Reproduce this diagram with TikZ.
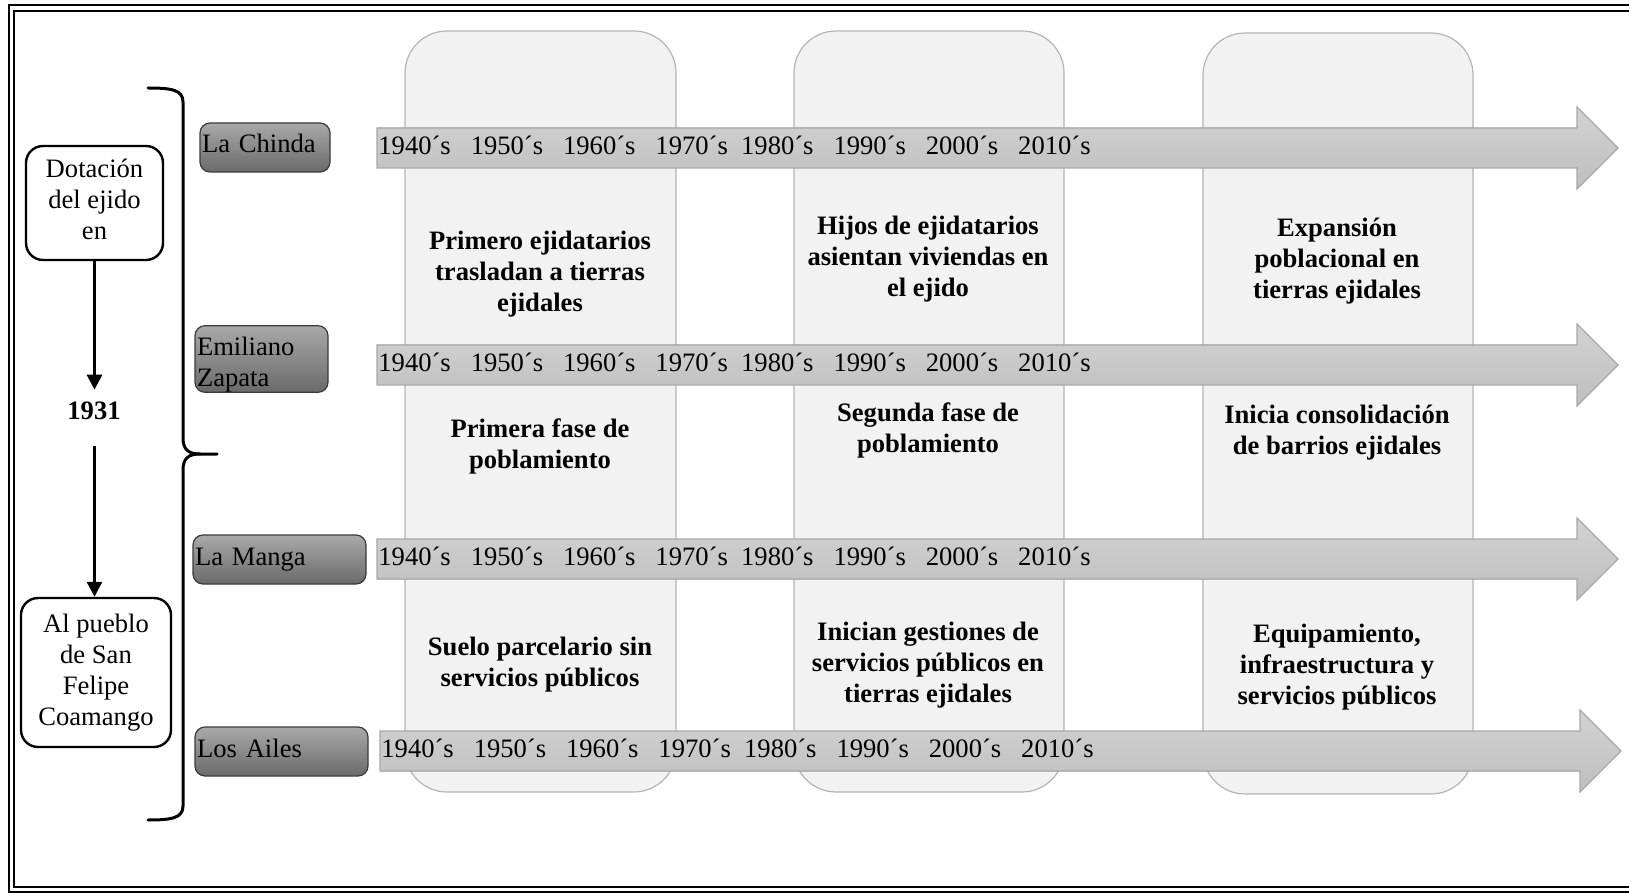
\documentclass[tikz,border=0pt]{standalone}
\usepackage{fontspec}
\setmainfont{Liberation Serif}
\usetikzlibrary{arrows.meta}

\definecolor{panelfill}{HTML}{F2F2F2}
\definecolor{panelline}{HTML}{B4B4B4}
\definecolor{arrowtop}{HTML}{D3D3D3}
\definecolor{arrowbot}{HTML}{BEBEBE}
\definecolor{arrowline}{HTML}{A8A8A8}
\definecolor{tagtop}{HTML}{A9A9A9}
\definecolor{tagbot}{HTML}{6A6A6A}
\definecolor{tagline}{HTML}{3A3A3A}

% decade labels along each time line
\newcommand\decadelist{1940´s\ \ \ 1950´s\ \ \ 1960´s\ \ \ 1970´s\ \ 1980´s\ \ \ 1990´s\ \ \ 2000´s\ \ \ 2010´s}
% invisible struts that nudge text inside fixed-size boxes
\newcommand\lowstrut[1]{\rule[-#1]{0pt}{0pt}}
\newcommand\highstrut[1]{\rule{0pt}{#1}}

\begin{document}
\begin{tikzpicture}[x=0.5pt,y=-0.5pt,
  txt/.style={font=\fontsize{13.3}{15.5}\selectfont},
  boldtxt/.style={font=\fontsize{13.3}{15.5}\selectfont\bfseries, align=center, inner sep=0pt},
  panel/.style={fill=panelfill, draw=panelline, line width=0.6pt, rounded corners=21pt},
  tlarrow/.style={top color=arrowtop, bottom color=arrowbot, draw=arrowline, line width=0.6pt},
  years/.style={txt, anchor=west, inner xsep=0.5pt, inner ysep=0pt},
  tag/.style={txt, draw=tagline, line width=0.6pt, top color=tagtop, bottom color=tagbot,
    rounded corners=5pt, align=left, inner xsep=1pt, inner ysep=0pt},
  eventbox/.style={txt, draw=black, line width=1.2pt, rounded corners=8.5pt, align=center, inner sep=0pt},
  flow/.style={line width=1.5pt, -{Triangle[length=7.5pt,width=7.5pt]}}
]
\useasboundingbox (0,0) rectangle (1629,893);
\clip (0,0) rectangle (1629,893);

% double page frame
\draw[line width=1.3pt] (9,5) rectangle (1700,892);
\draw[line width=1.2pt] (14,11) rectangle (1700,887);

% period panels
\draw[panel] (405,31) rectangle (676,792);
\draw[panel] (794,31) rectangle (1064,792);
\draw[panel] (1203,33) rectangle (1473,794);

% time lines with decades
\foreach \y/\x/\n in {148/377/1, 365/377/2, 559/377/3, 751/380/4}{
  \filldraw[tlarrow] (\x,\y-20) -- (\x+1200,\y-20) -- (\x+1200,\y-41) -- (\x+1241,\y)
    -- (\x+1200,\y+41) -- (\x+1200,\y+20) -- (\x,\y+20) -- cycle;
  \node[years] (dec\n) at (\x,\y-2.5) {\decadelist};
}

% panel descriptions
\node[boldtxt] (p1a) at (540,274) {Primero ejidatarios\\trasladan a tierras\\ejidales};
\node[boldtxt] (p1b) at (540,446) {Primera fase de\\poblamiento};
\node[boldtxt] (p1c) at (540,665) {Suelo parcelario sin\\servicios públicos};
\node[boldtxt] (p2a) at (928,259) {Hijos de ejidatarios\\asientan viviendas en\\el ejido};
\node[boldtxt] (p2b) at (928,430) {Segunda fase de\\poblamiento};
\node[boldtxt] (p2c) at (928,665) {Inician gestiones de\\servicios públicos en\\tierras ejidales};
\node[boldtxt] (p3a) at (1337,261) {Expansión\\poblacional en\\tierras ejidales};
\node[boldtxt] (p3b) at (1337,433) {Inicia consolidación\\de barrios ejidales};
\node[boldtxt] (p3c) at (1337,667) {Equipamiento,\\infraestructura y\\servicios públicos};

% locality tags
\node[tag, minimum width=65pt, minimum height=24.5pt, text width=63pt] (chinda) at (265,147.5) {La Chinda\lowstrut{4pt}};
\node[tag, minimum width=66.5pt, minimum height=33pt, text width=64.5pt] (zapata) at (261.5,359) {\highstrut{15pt}Emiliano\\Zapata};
\node[tag, minimum width=86.5pt, minimum height=24.5pt, text width=84.5pt] (manga) at (279.5,559.5) {La Manga\lowstrut{1pt}};
\node[tag, minimum width=86.5pt, minimum height=24.5pt, text width=84.5pt] (ailes) at (281.5,751.5) {Los Ailes\lowstrut{3pt}};

% grouping bracket
\draw[line width=1.5pt, line cap=round] (148,88) .. controls (172,88) and (183,90) .. (183,102)
  -- (183,438) .. controls (183,450) and (189,454) .. (200,454) -- (217,454);
\draw[line width=1.5pt, line cap=round] (200,454) .. controls (189,454) and (183,458) .. (183,470)
  -- (183,806) .. controls (183,818) and (172,820) .. (148,820);

% land grant sequence
\node[eventbox, minimum width=68.5pt, minimum height=57pt] (grant) at (94.5,203) {Dotación\\del ejido\\en\lowstrut{4pt}};
\node[txt, font=\fontsize{13.3}{15.5}\selectfont\bfseries, inner sep=0pt] (year) at (94,411) {1931};
\node[eventbox, minimum width=75pt, minimum height=74.5pt] (pueblo) at (96,672.5) {Al pueblo\\de San\\Felipe\\Coamango};
\draw[flow, shorten >=6pt] (grant.south) -- (grant.south |- year.north);
\draw[flow, shorten <=13pt] (grant.south |- year.south) -- (grant.south |- pueblo.north);
\end{tikzpicture}
\end{document}
